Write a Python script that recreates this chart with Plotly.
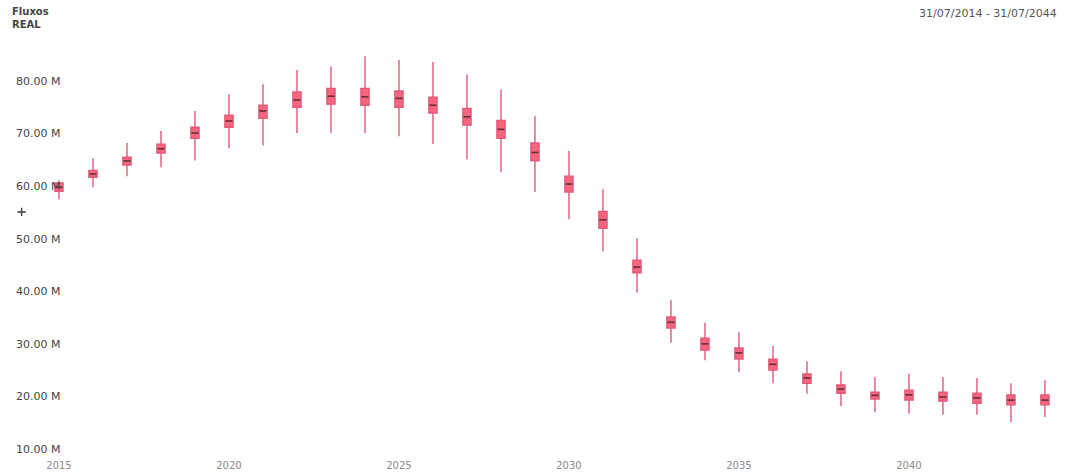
import plotly.graph_objects as go

years = list(range(2015, 2045))
lower = [57.5, 59.8, 61.9, 63.6, 64.9, 67.2, 67.8, 70.1, 70.1, 70.1,
         69.5, 68.0, 65.1, 62.7, 58.9, 53.7, 47.6, 39.7, 30.2, 26.9,
         24.6, 22.5, 20.5, 18.2, 17.0, 16.7, 16.5, 16.5, 15.1, 16.1]
q1 = [59.0, 61.7, 64.0, 66.3, 69.1, 71.2, 72.9, 75.0, 75.6, 75.4,
      75.0, 73.9, 71.6, 69.1, 64.8, 58.9, 52.0, 43.5, 33.0, 28.8,
      27.1, 25.0, 22.5, 20.6, 19.5, 19.3, 19.1, 18.7, 18.4, 18.4]
median = [59.8, 62.3, 64.8, 67.1, 70.1, 72.4, 74.3, 76.4, 77.1, 77.0,
          76.7, 75.4, 73.2, 70.8, 66.4, 60.4, 53.6, 44.6, 34.1, 30.0,
          28.3, 26.1, 23.5, 21.4, 20.2, 20.3, 19.9, 19.7, 19.3, 19.3]
q3 = [60.6, 63.0, 65.5, 68.0, 71.2, 73.5, 75.4, 77.9, 78.6, 78.6,
      78.1, 76.9, 74.8, 72.5, 68.2, 61.9, 55.2, 45.9, 35.1, 31.1,
      29.2, 27.1, 24.3, 22.2, 20.8, 21.2, 20.8, 20.6, 20.3, 20.3]
upper = [61.1, 65.3, 68.2, 70.5, 74.3, 77.5, 79.4, 82.1, 82.8, 84.7,
         84.0, 83.6, 81.3, 78.4, 73.3, 66.7, 59.4, 50.1, 38.3, 34.0,
         32.2, 29.6, 26.7, 24.8, 23.7, 24.3, 23.7, 23.5, 22.5, 23.1]
extra_x = [2013.9]
extra_y = [55.1]

y_ticks = [10, 20, 30, 40, 50, 60, 70, 80]
y_labels = [f"{v:.2f} M" for v in y_ticks]
x_ticks = [2015, 2020, 2025, 2030, 2035, 2040]

fig = go.Figure()
fig.add_trace(go.Box(
    x=years, q1=q1, median=median, q3=q3,
    lowerfence=lower, upperfence=upper,
    width=0.24, whiskerwidth=0,
    fillcolor="#f4667e",
    line=dict(color="#e4587a", width=1.4),
    hoverinfo="skip", showlegend=False,
))
fig.add_trace(go.Scatter(
    x=years, y=median, mode="markers",
    marker=dict(symbol="line-ew", size=5, line=dict(color="#6a3038", width=1.6)),
    hoverinfo="skip", showlegend=False,
))
fig.add_trace(go.Scatter(
    x=extra_x, y=extra_y, mode="markers",
    marker=dict(symbol="cross-thin", size=6, line=dict(color="#444444", width=1.5)),
    hoverinfo="skip", showlegend=False,
))

fig.update_layout(
    width=1065, height=474,
    margin=dict(l=0, r=0, t=40, b=22),
    plot_bgcolor="white", paper_bgcolor="white",
    font=dict(family="DejaVu Sans", size=10, color="#8a8a8a"),
    xaxis=dict(range=[2013.265, 2044.59], tickvals=x_ticks,
               ticklabelstandoff=6,
               showgrid=False, zeroline=False, showline=False, ticks=""),
    yaxis=dict(range=[9.43, 87.8], tickvals=y_ticks, ticktext=y_labels,
               ticklabelposition="inside", ticklabelstandoff=13,
               ticklabeloverflow="allow", tickfont=dict(size=11),
               showgrid=False, zeroline=False, showline=False, ticks=""),
    annotations=[
        dict(text="<b>Fluxos</b><br><b>REAL</b>", xref="paper", yref="paper", x=0, y=1,
             xanchor="left", yanchor="bottom", xshift=10, yshift=8, align="left",
             showarrow=False, font=dict(size=10, color="#444444")),
        dict(text="31/07/2014 - 31/07/2044", xref="paper", yref="paper", x=1, y=1,
             xanchor="right", yanchor="bottom", xshift=-6, yshift=18,
             showarrow=False, font=dict(size=11, color="#555555")),
    ],
)

fig.write_html("out.html", config={"displayModeBar": False},
               post_script="document.body.style.margin='0px';document.body.style.overflow='hidden';")
